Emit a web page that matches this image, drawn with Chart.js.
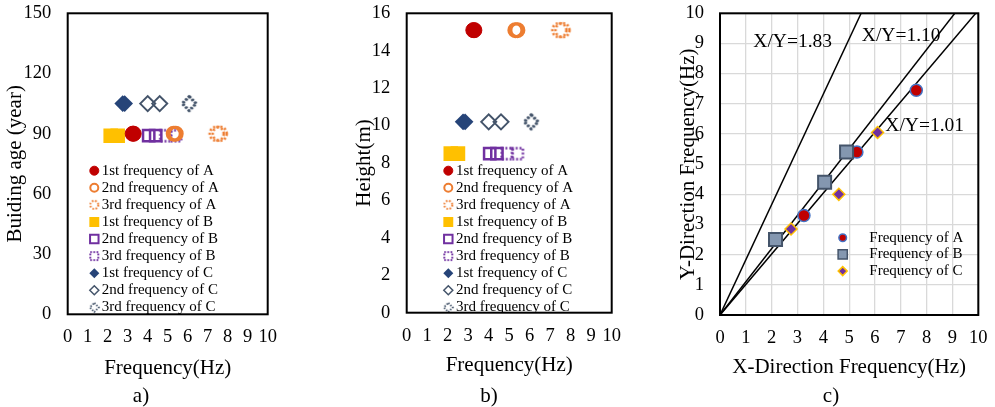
<!DOCTYPE html>
<html>
<head>
<meta charset="utf-8">
<title>Frequency of buildings A, B and C</title>
<script src="https://cdn.jsdelivr.net/npm/chart.js@4.4.1/dist/chart.umd.min.js"></script>
<style>
    html, body { margin: 0; padding: 0; background: #fff; }
    body { position: relative; width: 995px; height: 407px; overflow: hidden; font-family: "Liberation Serif", "Times New Roman", serif; }
    .panel { position: absolute; top: 0; }
    .caption { position: absolute; top: 383px; width: 40px; margin-left: -20px; text-align: center; font-size: 21px; line-height: 25px; color: #000; }
</style>
</head>
<body>
<canvas id="chart-age" class="panel" width="290" height="407" style="left:0"></canvas>
<canvas id="chart-height" class="panel" width="290" height="407" style="left:340px"></canvas>
<canvas id="chart-ratio" class="panel" width="335" height="407" style="left:660px"></canvas>
<div class="caption" style="left:141px">a)</div>
<div class="caption" style="left:489px">b)</div>
<div class="caption" style="left:831px">c)</div>
<script>
// Buildings and modes
var buildings = ['A', 'B', 'C'];
var modes = ['1st', '2nd', '3rd'];

// Building age (year) and height (m)
var buildingAge = [90, 89, 105];
var buildingHeight = [15.1, 8.5, 10.2];

// Frequencies (Hz) of 1st, 2nd, 3rd mode in X and Y direction
var freqAX = [3.25, 5.3, 7.6];
var freqAY = [3.3, 5.4, 7.45];
var freqBX = [2.15, 4.05, 4.9];
var freqBY = [2.5, 4.4, 5.4];
var freqCX = [2.75, 4.6, 6.1];
var freqCY = [2.85, 4.0, 6.05];

// X/Y ratio lines
var ratioLabels = ['X/Y=1.83', 'X/Y=1.10', 'X/Y=1.01'];
var ratioSlopes = [1.83, 1.10, 1.01];

// Tick labels
var ageTicks = [0, 30, 60, 90, 120, 150];
var heightTicks = [0, 2, 4, 6, 8, 10, 12, 14, 16];
var freqTicks = [0, 1, 2, 3, 4, 5, 6, 7, 8, 9, 10];

// Init
var app = app || {};
app.chart = {};
app.chart.font = '"Liberation Serif", "Times New Roman", serif';

/**
 * Dotted marker drawn on a small canvas (used as pointStyle)
 */
app.chart.dotted = function (shape, color, size, width) {
    var canvas = document.createElement('canvas');
    canvas.width = canvas.height = Math.ceil(size + width * 2 + 2);
    var ctx = canvas.getContext('2d');
    var c = canvas.width / 2;
    var r = size / 2;
    ctx.strokeStyle = color;
    ctx.lineWidth = width;
    ctx.setLineDash([width * 0.8, width * 0.8]);
    ctx.beginPath();
    if (shape === 'circle')
        ctx.arc(c, c, r, 0, Math.PI * 2);
    else if (shape === 'rect')
        ctx.rect(c - r, c - r, size, size);
    else {
        ctx.moveTo(c, c - r);
        ctx.lineTo(c + r, c);
        ctx.lineTo(c, c + r);
        ctx.lineTo(c - r, c);
        ctx.closePath();
    }
    ctx.stroke();
    return canvas;
};

// Marker styles per building and mode (chart point, legend point)
var none = 'rgba(0,0,0,0)';
app.chart.modeStyle = [
    [
        { fill: '#C00000', stroke: '#C00000', point: { pointStyle: 'circle', radius: 7.5, borderWidth: 1 }, legend: { pointStyle: 'circle', radius: 4.5, borderWidth: 1 } },
        { fill: none, stroke: '#ED7D31', point: { pointStyle: 'circle', radius: 6.5, borderWidth: 3 }, legend: { pointStyle: 'circle', radius: 4, borderWidth: 2 } },
        { fill: none, stroke: '#ED7D31', point: { pointStyle: app.chart.dotted('circle', '#ED7D31', 14, 2.6), radius: 8, borderWidth: 0 }, legend: { pointStyle: app.chart.dotted('circle', '#ED7D31', 8, 2), radius: 5, borderWidth: 0 } }
    ],
    [
        { fill: '#FFC000', stroke: '#FFC000', point: { pointStyle: 'rect', radius: 10.3, borderWidth: 0 }, legend: { pointStyle: 'rect', radius: 7, borderWidth: 0 } },
        { fill: none, stroke: '#7030A0', point: { pointStyle: 'rect', radius: 8, borderWidth: 2.5 }, legend: { pointStyle: 'rect', radius: 6, borderWidth: 2 } },
        { fill: none, stroke: '#7030A0', point: { pointStyle: app.chart.dotted('rect', '#7030A0', 11, 2.4), radius: 8, borderWidth: 0 }, legend: { pointStyle: app.chart.dotted('rect', '#7030A0', 8, 2), radius: 5, borderWidth: 0 } }
    ],
    [
        { fill: '#264478', stroke: '#264478', point: { pointStyle: 'rectRot', radius: 8.3, borderWidth: 0 }, legend: { pointStyle: 'rectRot', radius: 5, borderWidth: 0 } },
        { fill: none, stroke: '#44546A', point: { pointStyle: 'rectRot', radius: 7.5, borderWidth: 2 }, legend: { pointStyle: 'rectRot', radius: 4.5, borderWidth: 1.5 } },
        { fill: none, stroke: '#44546A', point: { pointStyle: app.chart.dotted('diamond', '#44546A', 14, 2.4), radius: 8, borderWidth: 0 }, legend: { pointStyle: app.chart.dotted('diamond', '#44546A', 9, 1.8), radius: 5, borderWidth: 0 } }
    ]
];

// Marker styles of panel c
app.chart.pairStyle = [
    { fill: '#C00000', stroke: '#4472C4', point: { pointStyle: 'circle', radius: 6, borderWidth: 1.5 }, legend: { pointStyle: 'circle', radius: 3.8, borderWidth: 1.5 } },
    { fill: '#8497B0', stroke: '#44546A', point: { pointStyle: 'rect', radius: 9.2, borderWidth: 2 }, legend: { pointStyle: 'rect', radius: 6.5, borderWidth: 1.5 } },
    { fill: '#7030A0', stroke: '#FFC000', point: { pointStyle: 'rectRot', radius: 6, borderWidth: 1.5 }, legend: { pointStyle: 'rectRot', radius: 4.5, borderWidth: 1.5 } }
];

/**
 * Datasets of panel a and b: one per building and mode, X and Y frequency
 */
app.chart.modeDatasets = function (values) {
    var freqX = [freqAX, freqBX, freqCX];
    var freqY = [freqAY, freqBY, freqCY];
    var datasets = [];
    buildings.forEach(function (name, i) {
        modes.forEach(function (mode, j) {
            var style = app.chart.modeStyle[i][j];
            datasets.push({
                label: mode + ' frequency of ' + name,
                data: [{ x: freqX[i][j], y: values[i] }, { x: freqY[i][j], y: values[i] }],
                pointStyle: style.point.pointStyle,
                pointRadius: style.point.radius,
                pointBorderWidth: style.point.borderWidth,
                pointBackgroundColor: style.fill,
                pointBorderColor: style.stroke,
                legendMarker: style.legend
            });
        });
    });
    return datasets;
};

/**
 * Datasets of panel c: X vs Y frequency, plus ratio lines
 */
app.chart.pairDatasets = function () {
    var freqX = [freqAX, freqBX, freqCX];
    var freqY = [freqAY, freqBY, freqCY];
    var datasets = [];
    buildings.forEach(function (name, i) {
        var style = app.chart.pairStyle[i];
        datasets.push({
            label: 'Frequency of ' + name,
            data: freqX[i].map(function (x, j) { return { x: x, y: freqY[i][j] }; }),
            pointStyle: style.point.pointStyle,
            pointRadius: style.point.radius,
            pointBorderWidth: style.point.borderWidth,
            pointBackgroundColor: style.fill,
            pointBorderColor: style.stroke,
            legendMarker: style.legend,
            order: 3 - i
        });
    });
    ratioSlopes.forEach(function (slope, i) {
        datasets.push({
            label: ratioLabels[i],
            data: [{ x: 0, y: 0 }, { x: 10 / slope, y: 10 }],
            showLine: true,
            borderColor: '#000',
            borderWidth: 1.5,
            pointRadius: 0,
            order: 10
        });
    });
    return datasets;
};

/**
 * Linear axis with fixed size and given ticks
 */
app.chart.axis = function (ticks, title, size, tickPadding, grid, vertical) {
    return {
        type: 'linear',
        min: ticks[0],
        max: ticks[ticks.length - 1],
        afterBuildTicks: function (scale) {
            scale.ticks = ticks.map(function (v) { return { value: v }; });
        },
        afterFit: function (scale) {
            if (vertical) {
                scale.width = size;
                scale.paddingTop = 0;
                scale.paddingBottom = 0;
            } else {
                scale.height = size;
                scale.paddingLeft = 0;
                scale.paddingRight = 0;
            }
        },
        ticks: {
            color: '#000',
            padding: tickPadding,
            autoSkip: false,
            maxRotation: 0,
            minRotation: 0,
            font: { family: app.chart.font, size: 18.5 }
        },
        grid: grid ? { color: '#d9d9d9', lineWidth: 1.3, drawTicks: false } : { display: false, drawTicks: false },
        border: { display: false },
        title: { display: true, text: title, color: '#000', padding: 0, font: { family: app.chart.font, size: 21 } }
    };
};

/**
 * Chart options
 */
app.chart.options = function (cfg) {
    return {
        responsive: false,
        animation: false,
        events: [],
        layout: { padding: cfg.padding },
        plugins: {
            legend: { display: false },
            tooltip: { enabled: false },
            boxLegend: cfg.legend,
            ratioLabels: cfg.ratio || {}
        },
        scales: { x: cfg.x, y: cfg.y }
    };
};

// Legend inside the plot area, clipped by it
app.chart.legendPlugin = {
    id: 'boxLegend',
    afterDatasetsDraw: function (chart, args, opts) {
        var area = chart.chartArea;
        var ctx = chart.ctx;
        var row = 0;
        ctx.save();
        ctx.beginPath();
        ctx.rect(area.left, area.top, area.right - area.left, area.bottom - area.top);
        ctx.clip();
        ctx.font = opts.fontSize + 'px ' + app.chart.font;
        ctx.textBaseline = 'middle';
        ctx.textAlign = 'left';
        chart.data.datasets.forEach(function (ds) {
            if (!ds.legendMarker)
                return;
            var y = area.top + opts.top + row * opts.rowHeight;
            ctx.fillStyle = ds.pointBackgroundColor;
            ctx.strokeStyle = ds.pointBorderColor;
            ctx.lineWidth = ds.legendMarker.borderWidth;
            Chart.helpers.drawPoint(ctx, ds.legendMarker, area.left + opts.markerX, y);
            ctx.fillStyle = '#000';
            ctx.fillText(ds.label, area.left + opts.textX, y);
            row++;
        });
        ctx.restore();
    }
};

// Ratio labels next to the lines
app.chart.ratioPlugin = {
    id: 'ratioLabels',
    afterDatasetsDraw: function (chart, args, opts) {
        var ctx = chart.ctx;
        var sx = chart.scales.x;
        var sy = chart.scales.y;
        ctx.save();
        ctx.font = '19.5px ' + app.chart.font;
        ctx.fillStyle = '#000';
        ctx.textBaseline = 'middle';
        ctx.textAlign = 'left';
        ratioLabels.forEach(function (text, i) {
            var at = opts.anchors[i];
            ctx.fillText(text, sx.getPixelForValue(at.x), sy.getPixelForValue(at.y));
        });
        ctx.restore();
    }
};

// Black box round the plot area
app.chart.framePlugin = {
    id: 'frame',
    afterDraw: function (chart) {
        var a = chart.chartArea;
        var ctx = chart.ctx;
        ctx.save();
        ctx.strokeStyle = '#000';
        ctx.lineWidth = 2;
        ctx.strokeRect(a.left, a.top, a.right - a.left, a.bottom - a.top);
        ctx.restore();
    }
};

// a) Building age
new Chart(document.getElementById('chart-age'), {
    type: 'scatter',
    data: { datasets: app.chart.modeDatasets(buildingAge) },
    options: app.chart.options({
        padding: { left: 2.4, top: 13.3, right: 22.3, bottom: 26.4 },
        x: app.chart.axis(freqTicks, 'Frequency(Hz)', 66.3, 12, false, false),
        y: app.chart.axis(ageTicks, 'Buiding age (year)', 65.3, 16.5, false, true),
        legend: { markerX: 26.6, textX: 34, top: 157.4, rowHeight: 17.08, fontSize: 15 }
    }),
    plugins: [app.chart.legendPlugin, app.chart.framePlugin]
});

// b) Height
new Chart(document.getElementById('chart-height'), {
    type: 'scatter',
    data: { datasets: app.chart.modeDatasets(buildingHeight) },
    options: app.chart.options({
        padding: { left: 11.9, top: 13.3, right: 18.3, bottom: 29.1 },
        x: app.chart.axis(freqTicks, 'Frequency(Hz)', 65.2, 12.5, false, false),
        y: app.chart.axis(heightTicks, 'Height(m)', 54.8, 16.5, false, true),
        legend: { markerX: 41.6, textX: 49.3, top: 157.4, rowHeight: 17.08, fontSize: 15 }
    }),
    plugins: [app.chart.legendPlugin, app.chart.framePlugin]
});

// c) X vs Y direction frequency
new Chart(document.getElementById('chart-ratio'), {
    type: 'scatter',
    data: { datasets: app.chart.pairDatasets() },
    options: app.chart.options({
        padding: { left: 15.4, top: 13.3, right: 16.7, bottom: 26.9 },
        x: app.chart.axis(freqTicks, 'X-Direction Frequency(Hz)', 65.1, 12, true, false),
        y: app.chart.axis(freqTicks, 'Y-Direction Frequency(Hz)', 44.6, 16, true, true),
        legend: { markerX: 122.7, textX: 149.3, top: 224.4, rowHeight: 16.7, fontSize: 15 },
        ratio: { anchors: [{ x: 1.29, y: 9.05 }, { x: 5.49, y: 9.25 }, { x: 6.4, y: 6.27 }] }
    }),
    plugins: [app.chart.legendPlugin, app.chart.ratioPlugin, app.chart.framePlugin]
});
</script>
</body>
</html>
